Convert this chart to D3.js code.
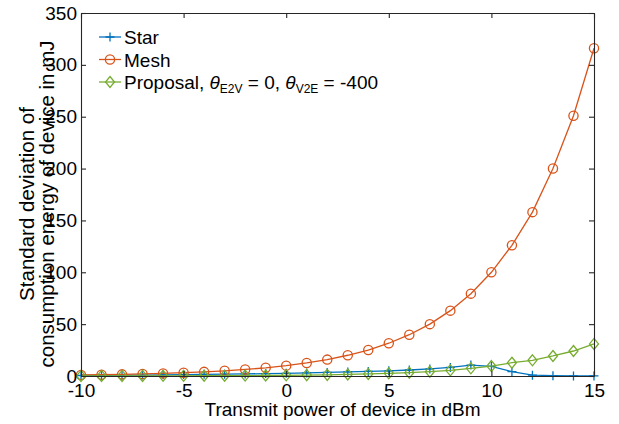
<!DOCTYPE html>
<html>
<head>
<meta charset="utf-8">
<script src="https://cdn.jsdelivr.net/npm/d3@7"></script>
<style>
body { margin: 0; background: #fff; }
text { font-family: "Liberation Sans", Arial, Helvetica, sans-serif; fill: #000; }
</style>
</head>
<body>
<script>
var power = [-10,-9,-8,-7,-6,-5,-4,-3,-2,-1,0,1,2,3,4,5,6,7,8,9,10,11,12,13,14,15];
var star = [0.5,0.6,0.8,0.9,1.1,1.4,1.6,1.8,2.0,2.3,2.6,3.0,3.4,3.9,4.4,5.0,5.8,6.8,8.3,10.5,9.2,4.2,0.8,0.3,0.1,0.1];
var mesh = [1,1.26,1.58,2,2.5,3.2,4,5,6.3,7.9,10,12.6,15.8,20,25,31.6,39.8,50,63,79.4,100,126,158,200,251,316];
var proposal = [0.05,0.07,0.09,0.12,0.15,0.2,0.25,0.3,0.4,0.5,0.65,0.85,1.1,1.5,2.0,2.6,3.2,4.2,5.5,7.4,9.6,12.8,15.1,19.3,24.1,30.9];
var xTicks = [-10,-5,0,5,10,15];
var yTicks = [0,50,100,150,200,250,300,350];

var W = 619, H = 424;
var mLeft = 81, mRight = 594, mTop = 13, mBottom = 376;
var axisColor = '#262626';
var fs = 19;

var svg = d3.select('body').append('svg').attr('width', W).attr('height', H);

var x = d3.scaleLinear().domain([-10, 15]).range([mLeft, mRight]);
var y = d3.scaleLinear().domain([0, 350]).range([mBottom, mTop]);

// series
var series = [
	{name: 'Star', vals: star, color: '#0072BD', marker: 'plus'},
	{name: 'Mesh', vals: mesh, color: '#D95319', marker: 'circle'},
	{name: 'Proposal', vals: proposal, color: '#77AC30', marker: 'diamond'}
];

function drawMarker(g, type, cx, cy, color) {
	if (type == 'plus') {
		g.append('path').attr('d', 'M' + (cx-4.5) + ',' + cy + 'H' + (cx+4.5) + 'M' + cx + ',' + (cy-4.5) + 'V' + (cy+4.5))
			.attr('stroke', color).attr('stroke-width', 1.3).attr('fill', 'none');
	} else if (type == 'circle') {
		g.append('circle').attr('cx', cx).attr('cy', cy).attr('r', 4.6)
			.attr('stroke', color).attr('stroke-width', 1.3).attr('fill', 'none');
	} else {
		g.append('path').attr('d', 'M' + cx + ',' + (cy-5.5) + 'L' + (cx+4.5) + ',' + cy + 'L' + cx + ',' + (cy+5.5) + 'L' + (cx-4.5) + ',' + cy + 'Z')
			.attr('stroke', color).attr('stroke-width', 1.3).attr('fill', 'none');
	}
}

var line = d3.line().x(function(d, i){ return x(power[i]); }).y(function(d){ return y(d); });
var plot = svg.append('g');
series.forEach(function(s){
	plot.append('path').datum(s.vals).attr('d', line).attr('fill', 'none')
		.attr('stroke', s.color).attr('stroke-width', 1.3);
	s.vals.forEach(function(v, i){ drawMarker(plot, s.marker, x(power[i]), y(v), s.color); });
});

// axes with inward ticks on all four sides
var tl = 5;
var fmt = function(d){ return String(d); };
var bottomAx = svg.append('g').attr('transform', 'translate(0,' + mBottom + ')')
	.call(d3.axisBottom(x).tickValues(xTicks).tickSizeInner(-tl).tickSizeOuter(0).tickFormat(fmt));
var topAx = svg.append('g').attr('transform', 'translate(0,' + mTop + ')')
	.call(d3.axisTop(x).tickValues(xTicks).tickSizeInner(-tl).tickSizeOuter(0).tickFormat(''));
var leftAx = svg.append('g').attr('transform', 'translate(' + mLeft + ',0)')
	.call(d3.axisLeft(y).tickValues(yTicks).tickSizeInner(-tl).tickSizeOuter(0).tickFormat(fmt));
var rightAx = svg.append('g').attr('transform', 'translate(' + mRight + ',0)')
	.call(d3.axisRight(y).tickValues(yTicks).tickSizeInner(-tl).tickSizeOuter(0).tickFormat(''));

[bottomAx, topAx, leftAx, rightAx].forEach(function(a){
	a.select('.domain').attr('stroke', axisColor).attr('stroke-width', 1.1);
	a.selectAll('.tick line').attr('stroke', axisColor).attr('stroke-width', 1.1);
	a.selectAll('.tick text').attr('font-size', fs).attr('fill', '#000')
		.style('font-family', '"Liberation Sans", Arial, sans-serif');
});
bottomAx.selectAll('.tick text').attr('y', 7.5);
leftAx.selectAll('.tick text').attr('x', -4);

// axis labels
svg.append('text').attr('x', (mLeft + mRight) / 2 + 5).attr('y', 416).attr('text-anchor', 'middle')
	.attr('font-size', fs).text('Transmit power of device in dBm');
var yl = svg.append('text').attr('transform', 'translate(34,204) rotate(-90)')
	.attr('text-anchor', 'middle').attr('font-size', 20.5);
yl.append('tspan').attr('x', 0).attr('dy', 0).text('Standard deviation of');
yl.append('tspan').attr('x', 0).attr('dy', 20).text('consumption energy of device in mJ');

// legend
var lg = svg.append('g');
series.forEach(function(s, i){
	var ly = 37 + i * 22.5;
	lg.append('line').attr('x1', 99).attr('x2', 121).attr('y1', ly).attr('y2', ly)
		.attr('stroke', s.color).attr('stroke-width', 1.3);
	drawMarker(lg, s.marker, 110, ly, s.color);
	var t = lg.append('text').attr('x', 124).attr('y', ly + 7).attr('font-size', fs);
	if (s.name == 'Proposal') {
		t.append('tspan').text('Proposal, ');
		t.append('tspan').attr('font-style', 'italic').text('\u03B8');
		t.append('tspan').attr('font-size', 12).attr('dy', 4).text('E2V');
		t.append('tspan').attr('dy', -4).text(' = 0, ');
		t.append('tspan').attr('font-style', 'italic').text('\u03B8');
		t.append('tspan').attr('font-size', 12).attr('dy', 4).text('V2E');
		t.append('tspan').attr('dy', -4).text(' = -400');
	} else {
		t.text(s.name);
	}
});
</script>
</body>
</html>
